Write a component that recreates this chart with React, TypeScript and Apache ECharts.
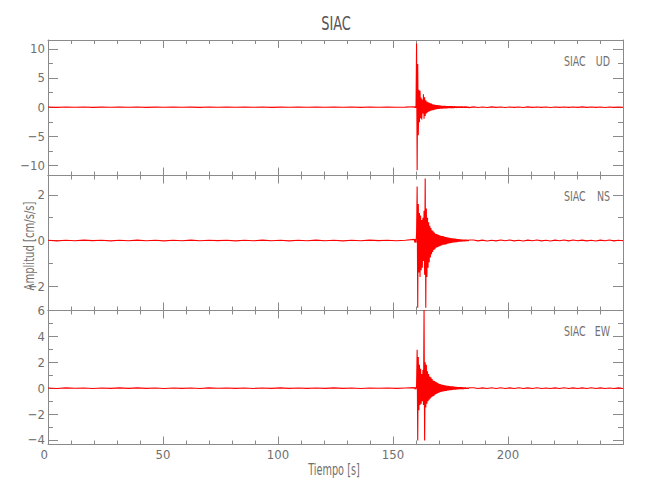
import React, { useEffect, useRef } from "react";
import * as echarts from "echarts";

// ---- Data ----
const title = "SIAC";
const components = ["UD", "NS", "EW"];
const xTickLabels = [0, 50, 100, 150, 200];

const udTicks = [-10, -5, 0, 5, 10];
const udMinorTicks = [-7.5, -2.5, 2.5, 7.5];
const nsTicks = [-2, 0, 2];
const nsMinorTicks = [-1, 1];
const ewTicks = [-4, -2, 0, 2, 4, 6];
const ewMinorTicks = [-3, -1, 1, 3, 5];

const yRanges = [
  [-11.7, 11.5],
  [-3.07, 2.85],
  [-4.35, 6.0],
];

// time sampling of the three segments of each trace
const EVENT_START = 159.25; // pre-event noise spans [0, EVENT_START)
const EVENT_STEP = 0.25;
const X_END = 250;

const udPre = [0.02, -0.03, 0.03, -0.01, 0.025, -0.03, 0.015, -0.02, 0.03, -0.015,
  0.02, -0.03, 0.01, -0.025, 0.03, -0.02, 0.015, -0.03, 0.02, -0.01,
  0.025, -0.02, 0.03, -0.015, 0.02, -0.03, 0.01, -0.02, 0.03, -0.025,
  0.015, -0.02, 0.03, -0.01, 0.025, -0.03, 0.02, -0.015, 0.03, -0.02, 0.01];
const udEvent = [0.06, -0.09, 0.12, -0.1, 10.9, -10.8, 7.4, -4.8, 3.0, -2.6,
  2.8, -1.9, 1.6, -2.1, 1.3, -1.1, 2.2, -2.0, 1.7, -1.5,
  1.2, -1.1, 0.95, -0.9, 0.85, -0.8, 0.75, -0.7, 0.65, -0.6,
  0.6, -0.5, 0.5, -0.5, 0.45, -0.42, 0.4, -0.4, 0.35, -0.36,
  0.34, -0.32, 0.3, -0.28, 0.3, -0.26, 0.27, -0.25, 0.24, -0.26,
  0.23, -0.22, 0.24, -0.2, 0.22, -0.2, 0.19, -0.2, 0.19, -0.18,
  0.17, -0.18, 0.16, -0.15, 0.17, -0.14, 0.15, -0.16, 0.13, -0.14,
  0.15, -0.12, 0.13, -0.13, 0.11, -0.12, 0.13, -0.1, 0.11, -0.12,
  0.1, -0.1, 0.11, -0.09, 0.1, -0.1, 0.08, -0.09, 0.1, -0.08,
  0.09, -0.08, 0.08, -0.09, 0.07, -0.08];
const udPost = [0.05, -0.06, 0.04, -0.05, 0.05, -0.04, 0.035, -0.05, 0.04, -0.035,
  0.04, -0.05, 0.045, -0.04, 0.035, -0.04, 0.04, -0.045, 0.04, -0.03,
  0.04, -0.04, 0.03, -0.04, 0.045, -0.04, 0.04, -0.03, 0.04, -0.045,
  0.03, -0.04, 0.03, -0.02];

const nsPre = [0.01, -0.015, 0.012, -0.01, 0.015, -0.008, 0.012, -0.015, 0.01, -0.012,
  0.015, -0.01, 0.008, -0.015, 0.012, -0.01, 0.015, -0.012, 0.01, -0.008,
  0.012, -0.015, 0.01, -0.012, 0.015, -0.01, 0.012, -0.015, 0.008, -0.01,
  0.015, -0.012, 0.01, -0.015, 0.012, -0.01, 0.015, -0.008, 0.012, -0.01, 0.01];
const nsEvent = [0.05, -0.08, 0.06, -0.1, 0.3, 2.37, -2.95, 1.6, -1.4, 1.2,
  -1.6, 1.1, -1.3, 0.9, -1.2, 1.0, -0.9, 1.3, -1.5, 2.72,
  -2.95, 1.4, -1.6, 1.0, -1.2, 0.8, -0.95, 0.65, -0.75, 0.55,
  -0.6, 0.45, -0.5, 0.4, -0.42, 0.35, -0.38, 0.3, -0.32, 0.28,
  -0.3, 0.26, -0.27, 0.24, -0.25, 0.22, -0.23, 0.2, -0.21, 0.19,
  -0.19, 0.18, -0.18, 0.16, -0.17, 0.15, -0.16, 0.14, -0.14, 0.13,
  -0.13, 0.12, -0.12, 0.11, -0.11, 0.1, -0.1, 0.09, -0.09, 0.08,
  -0.08, 0.08, -0.07, 0.07, -0.07, 0.06, -0.06, 0.06, -0.05, 0.05,
  -0.05, 0.045, -0.045, 0.04, -0.04, 0.035, -0.035, 0.03, -0.03, 0.03,
  -0.025, 0.03, -0.025, 0.02, -0.02, 0.02];
const nsPost = [0.02, -0.015, 0.015, -0.02, 0.012, -0.015, 0.018, -0.012, 0.02, -0.015,
  0.012, -0.02, 0.015, -0.012, 0.018, -0.015, 0.012, -0.02, 0.015, -0.012,
  0.018, -0.015, 0.02, -0.012, 0.015, -0.018, 0.012, -0.02, 0.015, -0.012,
  0.018, -0.015, 0.012, -0.01];

const ewPre = [0.015, -0.02, 0.02, -0.01, 0.018, -0.02, 0.012, -0.018, 0.02, -0.015,
  0.02, -0.018, 0.01, -0.02, 0.018, -0.012, 0.015, -0.02, 0.02, -0.01,
  0.018, -0.018, 0.012, -0.02, 0.018, -0.015, 0.02, -0.018, 0.01, -0.018,
  0.018, -0.012, 0.02, -0.018, 0.015, -0.02, 0.018, -0.01, 0.018, -0.018, 0.01];
const ewEvent = [0.04, -0.07, 0.05, -0.08, 0.2, 2.96, -4.05, 2.4, -1.7, 1.8,
  -1.3, 1.5, -1.2, 1.1, -1.0, 1.4, -1.3, 6.1, -4.05, 2.0,
  -1.5, 1.8, -1.2, 1.3, -1.0, 1.1, -0.9, 0.9, -0.8, 0.85,
  -0.7, 0.7, -0.65, 0.6, -0.6, 0.55, -0.5, 0.5, -0.45, 0.45,
  -0.4, 0.4, -0.36, 0.34, -0.33, 0.32, -0.3, 0.28, -0.28, 0.26,
  -0.25, 0.24, -0.23, 0.23, -0.22, 0.2, -0.21, 0.19, -0.18, 0.18,
  -0.17, 0.16, -0.16, 0.15, -0.15, 0.14, -0.13, 0.14, -0.12, 0.13,
  -0.12, 0.11, -0.11, 0.1, -0.1, 0.09, -0.09, 0.09, -0.08, 0.08,
  -0.08, 0.07, -0.07, 0.07, -0.06, 0.06, -0.06, 0.05, -0.05, 0.05,
  -0.05, 0.04, -0.04, 0.04, -0.035, 0.035];
const ewPost = [0.03, -0.03, 0.025, -0.03, 0.03, -0.025, 0.03, -0.03, 0.025, -0.03,
  0.03, -0.025, 0.025, -0.03, 0.03, -0.025, 0.02, -0.03, 0.025, -0.025,
  0.03, -0.02, 0.025, -0.03, 0.025, -0.025, 0.03, -0.02, 0.025, -0.03,
  0.02, -0.025, 0.025, -0.02];

// ---- helpers ----
function buildTrace(pre: number[], event: number[], post: number[]) {
  const pts: number[][] = [];
  pre.forEach((v, i) => pts.push([(i * EVENT_START) / pre.length, v]));
  event.forEach((v, i) => pts.push([EVENT_START + i * EVENT_STEP, v]));
  const evEnd = EVENT_START + (event.length - 1) * EVENT_STEP;
  post.forEach((v, i) => pts.push([evEnd + ((i + 1) * (X_END - evEnd)) / post.length, v]));
  return pts;
}

const traces = [
  buildTrace(udPre, udEvent, udPost),
  buildTrace(nsPre, nsEvent, nsPost),
  buildTrace(ewPre, ewEvent, ewPost),
];
const majorTicks = [udTicks, nsTicks, ewTicks];
const minorTicks = [udMinorTicks, nsMinorTicks, ewMinorTicks];

const FONT = "'Liberation Sans Narrow', 'DejaVu Sans Condensed', 'Noto Sans', sans-serif";
const AXIS_COLOR = "#8a8a8a";
const TEXT_COLOR = "#707070";
const panelTops = [40, 175.5, 310.5];
const panelHeights = [135.5, 135, 134];
const LEFT = 48;
const RIGHT = 27;

const fmtNum = (v: number) => String(v).replace("-", "\u2212");

export default function App() {
  const ref = useRef<HTMLDivElement>(null);
  useEffect(() => {
    if (!ref.current) return;
    const chart = echarts.init(ref.current, null, { renderer: "svg" });
    const grids: any[] = [];
    const xAxes: any[] = [];
    const yAxes: any[] = [];
    const series: any[] = [];
    const lineStyle = { color: AXIS_COLOR, width: 1 };

    traces.forEach((data, g) => {
      grids.push({ left: LEFT, right: RIGHT, top: panelTops[g], height: panelHeights[g] });
      ["bottom", "top"].forEach((pos) => {
        xAxes.push({
          type: "value",
          gridIndex: g,
          position: pos,
          min: 0,
          max: X_END,
          interval: 50,
          axisLine: { show: true, onZero: false, lineStyle },
          axisTick: { show: true, inside: true, length: 8, lineStyle },
          minorTick: { show: true, splitNumber: 5, length: 4, lineStyle },
          splitLine: { show: false },
          minorSplitLine: { show: false },
          axisLabel: {
            show: pos === "bottom" && g === 2,
            margin: 3,
            color: TEXT_COLOR,
            fontFamily: FONT,
            fontSize: 13,
            alignMinLabel: "right",
            formatter: (v: number) => (xTickLabels.includes(v) ? String(v) : ""),
          },
        });
      });
      const [ymin, ymax] = yRanges[g];
      ["left", "right"].forEach((pos) => {
        yAxes.push({
          type: "value",
          gridIndex: g,
          position: pos,
          min: ymin,
          max: ymax,
          axisLine: { show: true, onZero: false, lineStyle },
          axisTick: { show: true, inside: true, length: 10, lineStyle, customValues: majorTicks[g] },
          splitLine: { show: false },
          axisLabel: {
            show: pos === "left",
            customValues: majorTicks[g],
            margin: 3,
            color: TEXT_COLOR,
            fontFamily: FONT,
            fontSize: 13,
            formatter: (v: number) => fmtNum(v),
          },
        });
        yAxes.push({
          type: "value",
          gridIndex: g,
          position: pos,
          min: ymin,
          max: ymax,
          axisLine: { show: false, onZero: false },
          axisTick: { show: true, inside: true, length: 5, lineStyle, customValues: minorTicks[g] },
          splitLine: { show: false },
          axisLabel: { show: false },
        });
      });
      series.push({
        type: "line",
        name: components[g],
        xAxisIndex: g * 2,
        yAxisIndex: g * 4,
        data,
        symbol: "none",
        showSymbol: false,
        clip: true,
        silent: true,
        lineStyle: { color: "#ff0000", width: 1.1 },
      });
    });

    const labelYs = [61, 196.5, 331];
    const graphics: any[] = [
      {
        type: "text",
        x: 336,
        y: 23,
        scaleX: 0.72,
        style: { text: title, fill: "#555", font: `20px ${FONT}`, textAlign: "center", textVerticalAlign: "middle" },
      },
      {
        type: "text",
        x: 29,
        y: 246,
        rotation: Math.PI / 2,
        scaleX: 0.8,
        style: { text: "Amplitud [cm/s/s]", fill: TEXT_COLOR, font: `14px ${FONT}`, textAlign: "center", textVerticalAlign: "middle" },
      },
      {
        type: "text",
        x: 334,
        y: 470,
        scaleX: 0.72,
        style: { text: "Tiempo [s]", fill: TEXT_COLOR, font: `15px ${FONT}`, textAlign: "center", textVerticalAlign: "middle" },
      },
    ];
    components.forEach((c, g) => {
      graphics.push({
        type: "text",
        x: 564,
        y: labelYs[g],
        scaleX: 0.75,
        style: { text: title, fill: TEXT_COLOR, font: `14px ${FONT}`, textAlign: "left", textVerticalAlign: "middle" },
      });
      graphics.push({
        type: "text",
        x: 610,
        y: labelYs[g],
        scaleX: 0.75,
        style: { text: c, fill: TEXT_COLOR, font: `14px ${FONT}`, textAlign: "right", textVerticalAlign: "middle" },
      });
    });

    chart.setOption({
      animation: false,
      backgroundColor: "#fff",
      grid: grids,
      xAxis: xAxes,
      yAxis: yAxes,
      series,
      graphic: graphics,
    });
    return () => chart.dispose();
  }, []);
  return (
    <div
      ref={ref}
      style={{ position: "fixed", left: 0, top: 0, width: 650, height: 500, background: "#fff" }}
    />
  );
}
